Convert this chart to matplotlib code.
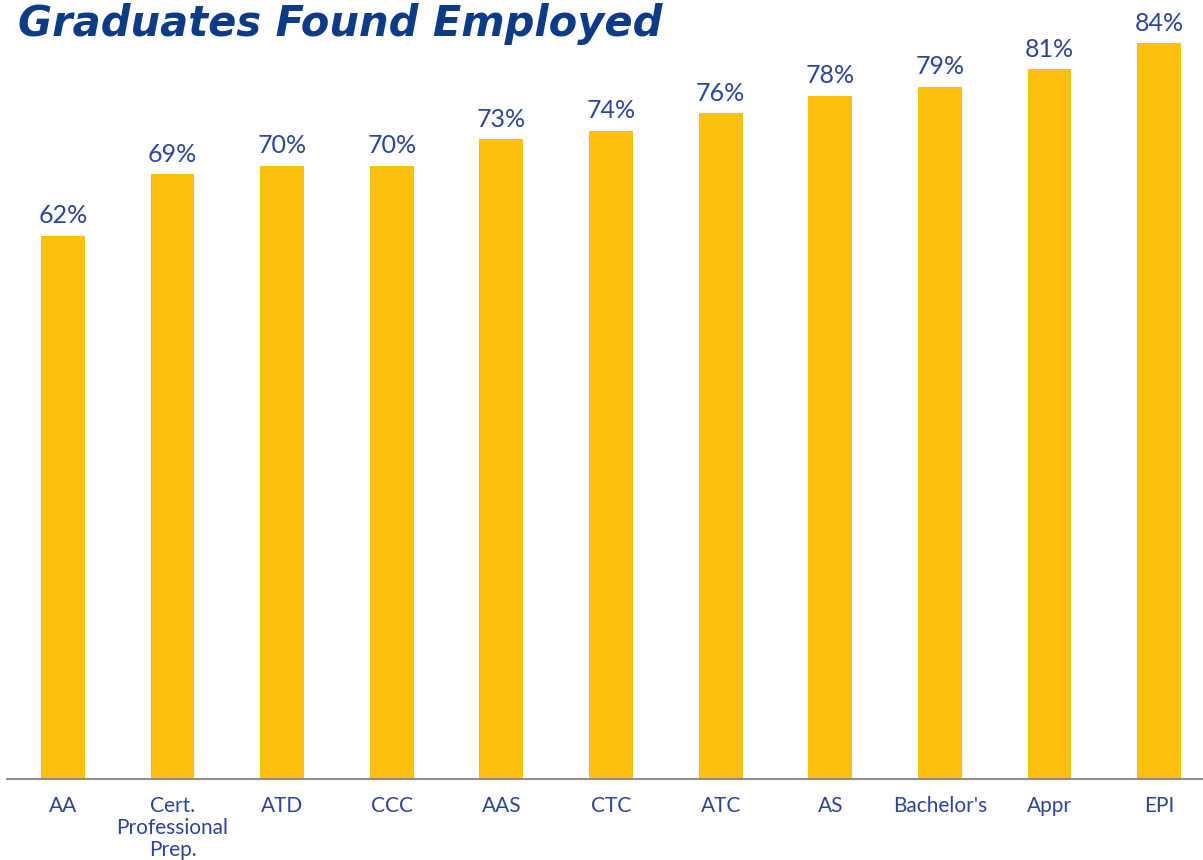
import matplotlib
matplotlib.use("Agg")
import matplotlib.pyplot as plt

categories = ["AA", "Cert.\nProfessional\nPrep.", "ATD", "CCC", "AAS", "CTC",
              "ATC", "AS", "Bachelor's", "Appr", "EPI"]
values = [62, 69, 70, 70, 73, 74, 76, 78, 79, 81, 84]
title = "Graduates Found Employed"

BAR = "#FBC010"
LABEL = "#2B4597"
TITLE = "#0D3B85"


def main():
    plt.rcParams['font.family'] = ['Lato', 'DejaVu Sans']
    fig = plt.figure(figsize=(12.03, 8.60), dpi=100)
    ax = fig.add_axes([7 / 1203, 1 - 779 / 860, 1 - 7 / 1203, 779 / 860])

    x = range(len(categories))
    bars = ax.bar(x, values, width=0.40, color=BAR)
    for b, v in zip(bars, values):
        ax.annotate(f"{v}%", (b.get_x() + b.get_width() / 2, v),
                    xytext=(0, 6), textcoords="offset points",
                    ha="center", va="bottom", fontsize=18, color=LABEL)

    ax.set_xlim(-0.51, 10.40)
    ax.set_ylim(0, 88.9)
    ax.set_xticks(list(x))
    ax.set_xticklabels(categories, fontsize=15, color=LABEL, linespacing=1.15)
    ax.tick_params(axis="x", length=0, pad=12)
    ax.set_yticks([])
    for s in ["top", "right", "left"]:
        ax.spines[s].set_visible(False)
    ax.spines["bottom"].set_color("#8C8C8C")
    ax.spines["bottom"].set_linewidth(1.5)

    fig.text(18 / 1203, 1 - 36 / 860, title, fontsize=30, fontweight="bold",
             fontstyle="italic", family="DejaVu Sans", color=TITLE,
             ha="left", va="baseline")

    fig.savefig("out.png", dpi=100)


if __name__ == "__main__":
    main()
